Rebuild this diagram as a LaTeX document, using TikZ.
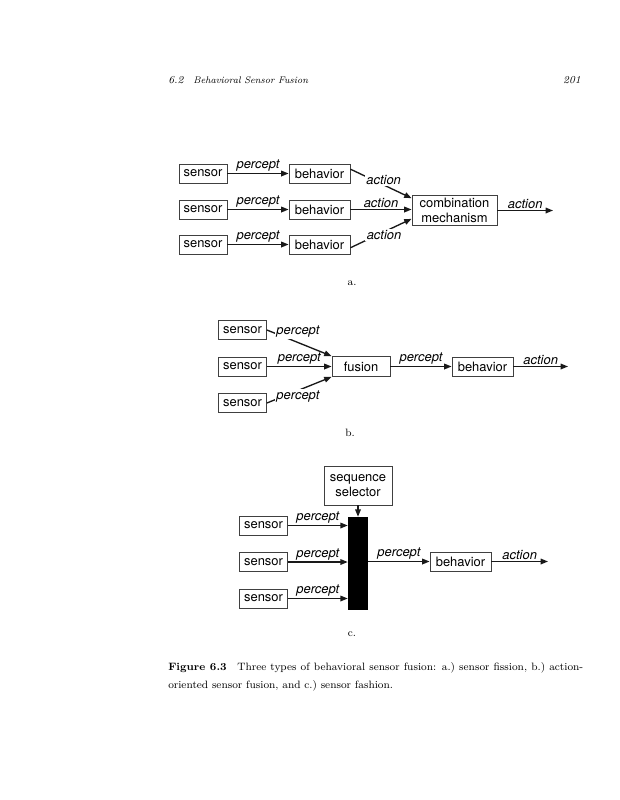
\documentclass[tikz,border=0pt]{standalone}
\usepackage{fontspec}
\setsansfont{TeX Gyre Heros}
\usetikzlibrary{arrows.meta,calc}
\begin{document}
\begin{tikzpicture}[x=0.75pt,y=-0.75pt,
  lbl/.style={font=\sffamily\fontsize{9.7}{11.25}\selectfont},
  blk/.style={draw=black!75, line width=0.65pt, fill=white, lbl, inner sep=0pt, minimum height=14.25pt, align=center},
  sens/.style={blk, minimum width=36pt},
  beh/.style={blk, minimum width=45.75pt},
  arr/.style={draw=black!90, line width=1pt, -{Triangle[length=5.5pt,width=4.2pt]}},
  lab/.style={font=\sffamily\itshape\fontsize{9.7}{11}\selectfont, inner sep=1pt},
  wlab/.style={lab, fill=white},
  ser/.style={font=\fontsize{8}{10}\selectfont, inner sep=0pt},
  seri/.style={font=\itshape\fontsize{8}{10}\selectfont, inner sep=0pt}
]
\fill[white] (0,0) rectangle (620,800);
\path[use as bounding box] (0,0) rectangle (620,800);

% header
\node[seri, anchor=base west] (h1) at (168,83) {6.2};
\node[seri, anchor=base west] (h2) at (193,83) {\scalebox{0.9}{Behavioral Sensor Fusion}};
\node[seri, anchor=base east] (h3) at (581,83) {201};

% ---------- diagram a ----------
\node[sens] (s1a) at (203,173.5) {sensor};
\node[sens] (s2a) at (203,209.5) {sensor};
\node[sens] (s3a) at (203,244.5) {sensor};
\node[beh] (b1a) at (319.5,173.5) {behavior};
\node[beh] (b2a) at (319.5,209.5) {behavior};
\node[beh] (b3a) at (319.5,244.5) {behavior};
\node[blk, minimum width=63.75pt, minimum height=22.5pt] (cm) at (454.5,210.5) {combination\\mechanism};
\coordinate (oa) at (553,210.5);
\draw[arr] (s1a) -- node[above,lab]{percept} (b1a);
\draw[arr] (s2a) -- node[above,lab]{percept} (b2a);
\draw[arr] (s3a) -- node[above,lab]{percept} (b3a);
\draw[arr] (b1a.8) -- node[wlab, xshift=2pt, yshift=3pt]{action} (cm.164);
\draw[arr] (b2a) -- node[above,lab]{action} (cm.west |- b2a);
\draw[arr] (b3a.-6) -- node[wlab, xshift=2.25pt, yshift=-1.5pt]{action} (cm.191);
\draw[arr] (cm) -- node[above,lab]{action} (oa);
\node[ser] (la) at (352,283) {a.};

% ---------- diagram b ----------
\node[sens] (s1b) at (242.5,330) {sensor};
\node[sens] (s2b) at (242.5,366.5) {sensor};
\node[sens] (s3b) at (242.5,403) {sensor};
\node[blk, minimum width=43.5pt, minimum height=15pt] (fu) at (361,366.5) {fusion};
\node[beh] (bb) at (482.5,366.5) {behavior};
\coordinate (ob) at (568,366.5);
\draw[arr] (s1b.east) -- node[wlab, xshift=-1pt, yshift=8.6pt]{percept} (fu.north west);
\draw[arr] (s2b) -- node[above,lab]{percept} (fu);
\draw[arr] (s3b.east) -- node[wlab, xshift=-1pt, yshift=-4.9pt]{percept} (fu.south west);
\draw[arr] (fu) -- node[above,lab]{percept} (bb);
\draw[arr] (bb) -- node[above,lab]{action} (ob);
\node[ser] (lb) at (350,433) {b.};

% ---------- diagram c ----------
\node[blk, minimum width=51pt, minimum height=29.25pt] (sel) at (358,485.5) {sequence\\selector};
\node[fill=black, inner sep=0pt, minimum width=15pt, minimum height=69.75pt] (bar) at (358,563.5) {};
\node[sens] (s1c) at (263.5,525.5) {sensor};
\node[sens] (s2c) at (263.5,562) {sensor};
\node[sens] (s3c) at (263.5,598.5) {sensor};
\node[beh] (bc) at (460.5,561.5) {behavior};
\coordinate (oc) at (548,561.5);
\draw[arr] (sel) -- (bar);
\draw[arr] (s1c) -- node[above,lab]{percept} (s1c -| bar.west);
\draw[arr] (s2c) -- node[above,lab]{percept} (s2c -| bar.west);
\draw[arr] (s3c) -- node[above,lab]{percept} (s3c -| bar.west);
\draw[arr] (bar.east |- bc) -- node[above,lab]{percept} (bc);
\draw[arr] (bc) -- node[above,lab]{action} (oc);
\node[ser] (lc) at (352,634) {c.};

% caption
\node[ser, anchor=base west] (cap1) at (168,670) {\makebox[311.25pt][s]{\textbf{Figure 6.3}\quad Three types of behavioral sensor fusion: a.)\ sensor fission, b.)\ action-}};
\node[ser, anchor=base west] (cap2) at (168,688) {oriented sensor fusion, and c.)\ sensor fashion.};
\end{tikzpicture}
\end{document}
